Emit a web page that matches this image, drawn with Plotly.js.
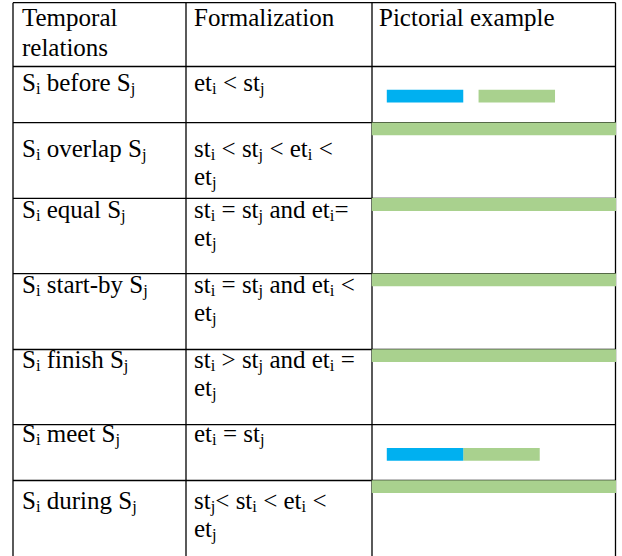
<!DOCTYPE html>
<html>
<head>
<meta charset="utf-8">
<script src="https://cdn.plot.ly/plotly-3.0.1.min.js"></script>
<style>html,body{margin:0;padding:0;background:#fff;}#chart{width:622px;height:556px;}</style>
</head>
<body>
<div id="chart"></div>
<script>
// ---- data ----
var headers = ['Temporal<br>relations', 'Formalization', 'Pictorial example'];
var relationNames = ['before', 'overlap', 'equal', 'start-by', 'finish', 'meet', 'during'];
var formalLine1 = [
  'et{i} &lt; st{j}',
  'st{i} &lt; st{j} &lt; et{i} &lt;',
  'st{i} = st{j} and et{i}=',
  'st{i} = st{j} and et{i} &lt;',
  'st{i} &gt; st{j} and et{i} =',
  'et{i} = st{j}',
  'st{j}&lt; st{i} &lt; et{i} &lt;'
];
var formalLine2 = ['', 'et{j}', 'et{j}', 'et{j}', 'et{j}', '', 'et{j}'];
// pictorial intervals (time units) as drawn in the example column
var siStart = [1, null, null, null, null, 1, null];
var siEnd   = [6, null, null, null, null, 6, null];
var sjStart = [7, 0, 0, 0, 0, 6, 0];
var sjEnd   = [12, 16, 16, 16, 16, 11, 16];

// ---- layout constants (pixel geometry of the table) ----
var W = 622, H = 556;
var colX = [13, 186, 372, 615.5];
var rowY = [2.7, 66.5, 122.7, 198.3, 273.7, 349.5, 424.7, 480.5];
var headBase = 26.5;
var rowBase = [91.7, 157.3, 218, 293.3, 368.3, 442.7, 509.3];
var lineGap = 28;
var textX = [21.5, 194, 379];
var FS = 25, ASC = 0.891 * FS;
var FONT = '"Liberation Serif", "Times New Roman", Times, serif';
var SUB_STYLE = 'font-size:16.5px;baseline-shift:-2.5px';
var sjSlot = ['mid', 'top', 'top', 'top', 'top', 'mid', 'top'];
var BAR_H = 12.8, MID_OFF = 29.6, TOP_OFF = 6.2;
var BLUE = '#00B0F0', GREEN = '#A9D18E';

function subs(s) {
  return s.replace(/\{(\w)\}/g, '<span style="' + SUB_STYLE + '">$1</span>');
}

// ---- shapes: table grid ----
var shapes = [];
colX.forEach(function (x) {
  shapes.push({type: 'line', xref: 'x', yref: 'y', x0: x, x1: x, y0: rowY[0], y1: H + 5,
    line: {color: '#000', width: 1.3}, layer: 'below'});
});
rowY.forEach(function (y) {
  shapes.push({type: 'line', xref: 'x', yref: 'y', x0: colX[0], x1: colX[colX.length - 1], y0: y, y1: y,
    line: {color: '#000', width: 1.3}, layer: 'below'});
});

// ---- annotations: text ----
var ann = [];
function addText(txt, x, base) {
  ann.push({text: subs(txt), xref: 'x', yref: 'y', x: x, y: base - ASC, xanchor: 'left', yanchor: 'top',
    showarrow: false, align: 'left', borderpad: 0, borderwidth: 0,
    font: {family: FONT, size: FS, color: '#000'}});
}
var hd = headers[0].split('<br>');
addText(hd[0], textX[0], headBase);
addText(hd[1], textX[0], headBase + lineGap + 1.5);
addText(headers[1], textX[1], headBase);
addText(headers[2], textX[2], headBase);
relationNames.forEach(function (r, i) {
  addText('S{i} ' + r + ' S{j}', textX[0], rowBase[i]);
  addText(formalLine1[i], textX[1], rowBase[i]);
  if (formalLine2[i]) addText(formalLine2[i], textX[1], rowBase[i] + lineGap);
});

// ---- bar traces for the pictorial column ----
function center(i, slot) {
  var top = rowY[i + 1];
  return slot === 'top' ? top + TOP_OFF : top + MID_OFF;
}
var biY = [], biBase = [], biLen = [];
var bjY = [], bjBase = [], bjLen = [];
relationNames.forEach(function (r, i) {
  if (siStart[i] !== null) {
    biY.push(center(i, 'mid')); biBase.push(siStart[i]); biLen.push(siEnd[i] - siStart[i]);
  }
  if (sjStart[i] !== null) {
    bjY.push(center(i, sjSlot[i])); bjBase.push(sjStart[i]); bjLen.push(sjEnd[i] - sjStart[i]);
  }
});

var traces = [
  {type: 'scatter', x: [], y: [], xaxis: 'x', yaxis: 'y', hoverinfo: 'skip', showlegend: false},
  {type: 'bar', orientation: 'h', xaxis: 'x2', yaxis: 'y', y: bjY, x: bjLen, base: bjBase, width: BAR_H,
    marker: {color: GREEN, line: {width: 0}}, hoverinfo: 'skip', showlegend: false, textposition: 'none'},
  {type: 'bar', orientation: 'h', xaxis: 'x2', yaxis: 'y', y: biY, x: biLen, base: biBase, width: BAR_H,
    marker: {color: BLUE, line: {width: 0}}, hoverinfo: 'skip', showlegend: false, textposition: 'none'}
];

var layout = {
  width: W, height: H,
  margin: {l: 0, r: 0, t: 0, b: 0},
  paper_bgcolor: '#fff', plot_bgcolor: 'rgba(0,0,0,0)',
  barmode: 'overlay',
  font: {family: FONT, size: FS, color: '#000'},
  xaxis: {range: [0, W], domain: [0, 1], visible: false, fixedrange: true, showgrid: false, zeroline: false},
  xaxis2: {range: [0, 16], domain: [371.5 / W, 616.2 / W], anchor: 'y', visible: false,
    fixedrange: true, showgrid: false, zeroline: false},
  yaxis: {range: [H, 0], domain: [0, 1], visible: false, fixedrange: true, showgrid: false, zeroline: false},
  shapes: shapes,
  annotations: ann,
  showlegend: false
};

Plotly.newPlot('chart', traces, layout, {staticPlot: true, displayModeBar: false});
</script>
</body>
</html>
